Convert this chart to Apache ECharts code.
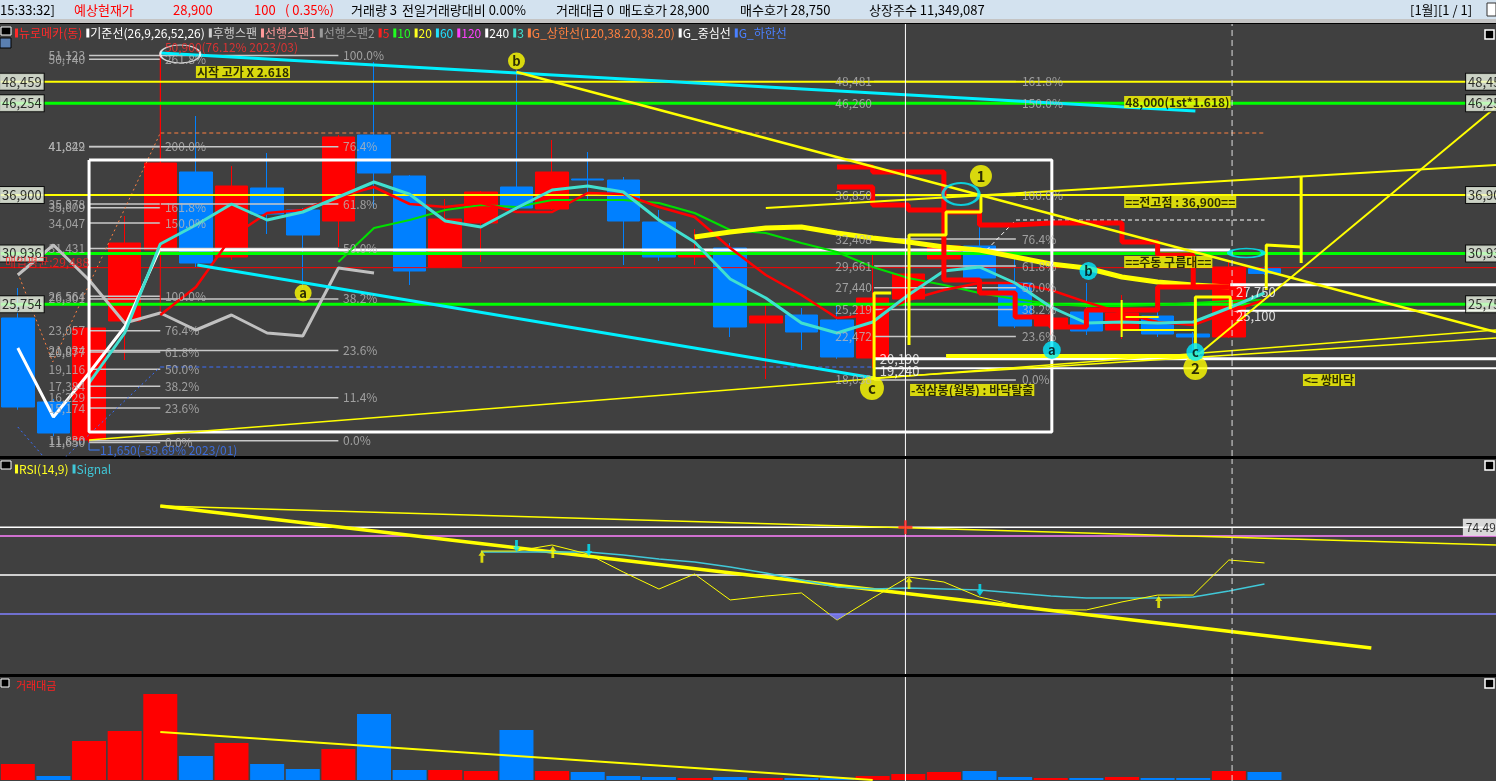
<!DOCTYPE html>
<html>
<head>
<meta charset="utf-8">
<script src="https://cdn.jsdelivr.net/npm/echarts@6.0.0/dist/echarts.min.js"></script>
<style>
html,body{margin:0;padding:0;background:#000;overflow:hidden;}
#chart{width:1496px;height:781px;}
</style>
</head>
<body>
<div id="chart"></div>
<script>
// ================= DATA =================
const categories = ['2022/11','2022/12','2023/01','2023/02','2023/03','2023/04','2023/05','2023/06','2023/07','2023/08','2023/09','2023/10','2023/11','2023/12','2024/01','2024/02','2024/03','2024/04','2024/05','2024/06','2024/07','2024/08','2024/09','2024/10','2024/11','2024/12','2025/01','2025/02','2025/03','2025/04','2025/05','2025/06','2025/07','2025/08','2025/09','2025/10','2025/11','2025/12','2026/01','2026/02','2026/03','2026/04'];

const candleOpen  = [24354,15786,11910,24048,31290,39246,30576,37614,35370,34248,43020,38838,29556,34044,37716,35472,38532,38430,34146,30576,31494,23844,24660,24150,20274,26292,30372,31698,27924,23538,24966,23130,24558,22722,22416,29400];
const candleClose = [15276,12624,23334,32004,40164,29964,37818,34962,32820,42816,39144,29148,34452,37206,35574,39246,38430,34248,30576,30780,23436,24558,22926,20376,26394,28842,31698,28434,23538,24354,23028,24864,22722,22416,29556,28900];
const candleLow   = [15000,12300,11650,20070,29500,29556,30270,32922,27414,31596,35574,27720,29454,30066,35370,35370,36492,29760,30168,29760,22416,18132,21090,20190,19240,26190,30066,28230,23334,22620,22620,22212,22416,21090,22314,28750];
const candleHigh  = [27414,16100,23334,34758,50900,44958,39858,41184,35574,43020,50466,38940,36492,37308,49650,42510,41286,38736,35370,33432,32004,25884,25374,25884,30780,29046,32310,34452,30984,26190,27924,26700,24966,22926,30066,29600];

// moving averages (start index, values)
const ma3Start = 2;
const ma3 = [17724,22824,31902,33840,35982,34350,35166,36696,38226,36978,34248,33636,35574,37410,37818,37206,34350,32106,28332,26394,23844,22824,23946,26700,29148,29556,27924,25476,23844,23946,23844,23946,25374,26904];
const ma5Start = 4;
const ma5 = [24660,27516,32616,35064,35370,36696,37716,35982,35676,36084,35166,35166,37104,37002,35676,34656,31494,28740,26700,24354,24660,26190,27210,27924,27924,27210,25974,24864,23946,23640,24966,26190];
const ma10Start = 9;
const ma10 = [30066,33534,34350,35370,35880,35676,36390,36390,36390,36084,35064,33330,33024,32004,31086,29556,28434,27720,26904,26292,25776,25572,25572,25674,25878,26084,26190];
const ma20Start = 19;
const ma20 = [32616,33126,33534,33636,33024,32514,32106,31596,31290,30576,29862,29454,28536,28026,27720,27516];
const lagSpan = [28740,31800,28230,23844,24864,23130,24660,22824,22518,29454,28944];
const baseLine = [21294,14256,18744,23436,31494];
const cloudStart = 23;
const cloudUpper = [39756,39246,39246,35166,33840,34044,34044,34044,32106,30780,27516];
const cloudLower = [37716,35880,35370,28230,26904,24456,23436,25170,25170,27516,27516];

// volume
const volume = [16,4,39,49,86,24,37,16,11,31,66,10,10,9,50,9,8,4,3,2,3,2,2,2,4,6,8,9,3,2,2,3,2,2,9,8];
const volDir = ['u','d','u','u','u','d','u','d','d','u','d','d','u','u','d','u','d','d','d','u','d','u','d','d','u','u','u','d','d','u','d','u','d','d','u','d'];
const volTrend = [[4,48],[24,0]];

// RSI
const rsiStart = 13;
const rsi = [62.3,62.3,65.4,60.8,51.5,42.8,50.5,37.2,39.2,40.8,26.9,38.2,49.0,46.4,38.7,34.6,32.1,32.1,36.2,39.7,39.7,57.7,56.2];
const rsiSignal = [61.8,61.8,61.8,61.8,60.3,58.2,56.7,54.1,51.0,47.4,43.8,42.8,43.3,42.8,42.3,40.8,39.2,38.2,38.2,38.2,38.7,41.8,45.4];
const rsiLevels = [74.49, 70, 50, 30];
const rsiTrendThick = [[4.0,85.4],[38.0,12.6]];
const rsiTrendThin = [[4.0,85.4],[41.5,65.4]];
const rsiUpArrows = [[13.03,59.4],[15.02,61.8],[25.02,45.9],[32.03,36.2]];
const rsiDownArrows = [[14.0,64.9],[16.03,62.8],[27.01,42.3]];

// horizontal levels (price)
const boxLevels = [48459, 46254, 36900, 30936, 25754];
const boxLevelLabels = ['48,459','46,254','36,900','30,936','25,754'];
const avgPrice = 29488;
const whiteRightLevels = [27750, 25100];
const whiteLowLevels = [20190, 19240];

// trend lines / drawings  [x index, price]
const whiteBasePts = [[4,31290],[34.04,31290]];
const whiteBoxPts = [[2,40470],[29.03,40470],[29.03,12726],[2,12726],[2,40470]];
const cyanTopPts = [[4.0,51384],[33.06,45468]];
const cyanLowPts = [[5.04,29760],[24.04,18234]];
const yDescPts = [[14.0,49446],[41.5,22926]];
const yAsc1Pts = [[2.0,11910],[41.5,23130]];
const yAsc2Pts = [[24.04,18234],[41.5,22314]];
const yUpPts = [[21.0,35574],[41.5,39960]];
const ySteepPts = [[33.06,20376],[41.5,45876]];
const yDoubleBottomPts = [[26.06,20478],[33.06,20478]];
const yStepSegs = [
  [[24.04,18030],[24.04,26904],[24.52,26904]],
  [[25.02,21600],[25.02,32820],[26.06,32820],[26.06,35166],[27.04,35166],[27.04,36900]],
  [[33.06,20376],[33.06,26496],[34.04,26496],[34.04,25272]],
  [[35.05,27210],[35.05,31800],[36.03,31596]],
  [[36.03,38736],[36.03,29964]]
];
const yThinSegs = [
  [[30.99,26190],[30.99,22416]],
  [[30.99,23130],[33.06,23130]],
  [[31.1,24456],[32.03,24456]]
];
const orangeDashPts = [[4.0,43224],[35.0,43224]];
const orangeDotPts = [[0,28944],[0.98,19866],[4.0,43224]];
const blueDashPts = [[4.0,19356],[24.04,19356]];
const blueDotPts1 = [[1.34,10176],[4.0,19356]];
const blueDotPts2 = [[0,13236],[0.73,10176]];
const whiteDashPts = [[27.2,31290],[28.02,34350],[35.0,34350]];
const highMarkPts = [[4,51384],[4,24660]];
const lowMarkPts = [[2.0,11650],[2.0,10890],[2.3,10890]];
const cursorX = 24.92;
const dashCursorX = 34.09;

// fibonacci sets
const fibLeftLevels = [50740,41842,35609,34047,26564,23057,20877,19116,17384,15174,11650];
const fibLeftPct = ['261.8%','200.0%','161.8%','150.0%','100.0%','76.4%','61.8%','50.0%','38.2%','23.6%','0.0%'];
const fibRightLevels = [51123,41829,35978,31431,26301,21034,16229,11830];
const fibRightPct = ['100.0%','76.4%','61.8%','50.0%','38.2%','23.6%','11.4%','0.0%'];
const fibMidLevels = [48481,46260,36850,32408,29661,27440,25219,22472,18038];
const fibMidPct = ['161.8%','150.0%','100.0%','76.4%','61.8%','50.0%','38.2%','23.6%','0.0%'];

// wave markers
const yellowMarkText = ['a','b','c','1','2'];
const yellowMarkPos = [[8.01,26904],[14.0,50568],[23.98,17214],[27.04,38838],[33.06,19254]];
const cyanMarkText = ['a','b','c'];
const cyanMarkPos = [[29.03,21090],[30.06,29148],[33.06,20886]];

// annotations
const annoYellowText = ['시작 고가 X 2.618','48,000(1st*1.618)','==전고점 : 36,900==','==주동 구름대==','<= 쌍바닥','-적삼봉(월봉) : 바닥탈출'];
const annoYellowPos = [[5.0,49446],[31.06,46386],[31.06,36186],[31.06,30066],[36.08,18030],[25.05,17010]];
const highNote = '50,900(76.12% 2023/03)';
const highNotePos = [4.13,51996];
const lowNote = '11,650(-59.69% 2023/01)';
const lowNotePos = [2.31,10890];
const avgNote = '매입평균:29,488';
const avgNotePos = [-0.36,30066];
const whiteValText = ['27,750','25,100','20,190','19,240'];
const whiteValPos = [[34.2,27006],[34.2,24558],[24.2,20172],[24.2,18948]];

// header & legend texts
const headerTexts = ['15:33:32]','예상현재가','28,900','100','( 0.35%)','거래량 3','전일거래량대비 0.00%','거래대금 0','매도호가 28,900','매수호가 28,750','상장주수 11,349,087','[1월][1 / 1]'];
const legendNames = ['뉴로메카(동)','기준선(26,9,26,52,26)','후행스팬','선행스팬1','선행스팬2','5','10','20','60','120','240','3','G_상한선(120,38.20,38.20)','G_중심선','G_하한선'];
const rsiLegendNames = ['RSI(14,9)','Signal'];

// ================= STYLE / LAYOUT =================
const FONT = "'Noto Sans CJK KR','Noto Sans',sans-serif";
const headerX = [0,74,173,254,285,351,402,556,619,740,869,1410];
const headerColors = ['#000','#ff0000','#ff0000','#ff0000','#ff0000','#000','#000','#000','#000','#000','#000','#000'];
const legendColors = ['#ff2a2a','#ffffff','#d0d0d0','#ff9a9a','#9a9a9a','#ff2020','#20ff20','#ffff20','#20e0ff','#ff40ff','#ffffff','#40e0d0','#ff8040','#ffffff','#4a80ff'];
const rsiLegendColors = ['#ffff20','#40c8d8'];

function pad(start, arr){
  const out = categories.map(() => null);
  arr.forEach((v,k)=>{ out[start+k] = v; });
  return out;
}
function poly(pts, color, width, type, z, grid){
  grid = grid || 0;
  return {type:'line', xAxisIndex:3+grid, yAxisIndex:grid, data:pts, symbol:'none',
    lineStyle:{color:color, width:width, type:type||'solid'}, silent:true, z:z||5, clip:true};
}
function labels(items, style, grid){
  grid = grid || 0;
  return {type:'scatter', xAxisIndex:3+grid, yAxisIndex:grid, symbolSize:0, silent:true, z:20,
    itemStyle:{color:'rgba(0,0,0,0)'},
    data: items.map(it => ({value:it.pos, label:Object.assign({show:true, formatter:it.text, fontFamily:FONT}, style, it.style||{})}))};
}

const series = [];
const XMIN = -0.5, XMAX = 41.5;

// candles
series.push({type:'candlestick', xAxisIndex:0, yAxisIndex:0, barWidth:33, z:2,
  data: candleOpen.map((o,i)=>[o, candleClose[i], candleLow[i], candleHigh[i]]),
  itemStyle:{color:'#ff0000', color0:'#0080ff', borderColor:'#ff0000', borderColor0:'#0080ff', borderWidth:1}});

// fib lines (gray)
fibRightLevels.forEach(p => series.push(poly([[2.0,p],[9.0,p]], '#c8c8c8', 1.5, 'solid', 3)));
fibLeftLevels.forEach(p => series.push(poly([[2.0,p],[4.0,p]], '#c8c8c8', 1.5, 'solid', 3)));
fibMidLevels.forEach(p => series.push(poly([[24.04,p],[28.02,p]], '#c8c8c8', 1.5, 'solid', 3)));

// horizontal lines
const boxLevelColors = ['#ffff00','#00ff00','#ffff00','#00ff00','#00ff00'];
const boxLevelWidths = [2,3,2,3,3];
boxLevels.forEach((p,k) => series.push(poly([[XMIN,p],[XMAX,p]], boxLevelColors[k], boxLevelWidths[k], 'solid', 6)));
series.push(poly([[XMIN,avgPrice],[XMAX,avgPrice]], '#ff0000', 1, 'solid', 6));
whiteRightLevels.forEach((p,k) => series.push(poly([[34.04,p],[XMAX,p]], '#ffffff', k===0?3:2, 'solid', 6)));
whiteLowLevels.forEach((p,k) => series.push(poly([[24.04,p],[XMAX,p]], '#ffffff', k===0?3:2, 'solid', 6)));

// dashed / dotted
series.push(poly(orangeDashPts, '#ff8040', 1, [4,3], 4));
series.push(poly(orangeDotPts, '#ff8040', 1, [2,3], 4));
series.push(poly(blueDashPts, '#3a6fff', 1, [4,3], 4));
series.push(poly(blueDotPts1, '#3a6fff', 1, [2,3], 4));
series.push(poly(blueDotPts2, '#3a6fff', 1, [2,3], 4));
series.push(poly(whiteDashPts, '#ffffff', 1, [4,3], 4));
series.push(poly(highMarkPts, '#ff0000', 1, 'solid', 4));
series.push(poly(lowMarkPts, '#3a7fff', 1, 'solid', 4));

// MAs
series.push({type:'line', xAxisIndex:0, yAxisIndex:0, data:lagSpan, symbol:'none', lineStyle:{color:'#c0c0c0', width:3}, z:7});
series.push({type:'line', xAxisIndex:0, yAxisIndex:0, data:pad(0,baseLine), symbol:'none', lineStyle:{color:'#ffffff', width:3}, z:7});
series.push(poly(whiteBasePts, '#ffffff', 3, 'solid', 7));
series.push({type:'line', xAxisIndex:0, yAxisIndex:0, data:pad(ma10Start,ma10), symbol:'none', lineStyle:{color:'#00e000', width:2}, z:8});
series.push({type:'line', xAxisIndex:0, yAxisIndex:0, data:pad(ma5Start,ma5), symbol:'none', lineStyle:{color:'#ff0000', width:2.5}, z:8});
series.push({type:'line', xAxisIndex:0, yAxisIndex:0, data:pad(ma3Start,ma3), symbol:'none', lineStyle:{color:'#40e0d0', width:3}, z:9});
series.push({type:'line', xAxisIndex:0, yAxisIndex:0, data:pad(ma20Start,ma20), symbol:'none', lineStyle:{color:'#ffff00', width:5}, z:9});

// cloud step lines
series.push({type:'line', xAxisIndex:0, yAxisIndex:0, step:'end', data:pad(cloudStart,cloudUpper), symbol:'none', lineStyle:{color:'#ff0000', width:5}, z:10});
series.push({type:'line', xAxisIndex:0, yAxisIndex:0, step:'end', data:pad(cloudStart,cloudLower), symbol:'none', lineStyle:{color:'#ff0000', width:5}, z:10});

// box & trend lines
series.push(poly(whiteBoxPts, '#ffffff', 3, 'solid', 11));
series.push(poly(cyanTopPts, '#00f0ff', 3, 'solid', 11));
series.push(poly(cyanLowPts, '#00f0ff', 3, 'solid', 11));
series.push(poly(yDescPts, '#ffff00', 2.5, 'solid', 11));
series.push(poly(yAsc1Pts, '#ffff00', 1.5, 'solid', 11));
series.push(poly(yAsc2Pts, '#ffff00', 1.5, 'solid', 11));
series.push(poly(yUpPts, '#ffff00', 2, 'solid', 11));
series.push(poly(ySteepPts, '#ffff00', 2, 'solid', 11));
series.push(poly(yDoubleBottomPts, '#ffff00', 4, 'solid', 11));
yStepSegs.forEach(s => series.push(poly(s, '#ffff00', 3, 'solid', 12)));
yThinSegs.forEach(s => series.push(poly(s, '#ffff00', 2, 'solid', 12)));

// cursor lines
series.push(poly([[cursorX,10278],[cursorX,54342]], '#ffffff', 1, 'solid', 13, 0));
series.push(poly([[cursorX,-0.77],[cursorX,109.5]], '#ffffff', 1, 'solid', 13, 1));
series.push(poly([[cursorX,-1],[cursorX,103]], '#ffffff', 1, 'solid', 13, 2));
series.push(poly([[dashCursorX,10278],[dashCursorX,54342]], '#dddddd', 1, [6,4], 13, 0));
series.push(poly([[dashCursorX,-0.77],[dashCursorX,109.5]], '#dddddd', 1, [6,4], 13, 1));
series.push(poly([[dashCursorX,-1],[dashCursorX,103]], '#dddddd', 1, [6,4], 13, 2));

// ellipses
series.push({type:'scatter', xAxisIndex:3, yAxisIndex:0, silent:true, z:14, symbol:'circle',
  data:[{value:[26.48,37002], symbolSize:[36,22], itemStyle:{color:'rgba(0,0,0,0)', borderColor:'#00f0ff', borderWidth:2.5}},
        {value:[34.49,30984], symbolSize:[34,9], itemStyle:{color:'rgba(0,0,0,0)', borderColor:'#00f0ff', borderWidth:2.5}},
        {value:[4.56,51282], symbolSize:[40,18], itemStyle:{color:'rgba(0,0,0,0)', borderColor:'#ffffff', borderWidth:1.5}}]});

// wave markers
const yellowSizes = [17,17,24,22,24];
series.push({type:'scatter', xAxisIndex:3, yAxisIndex:0, silent:true, z:15, symbol:'circle',
  data: yellowMarkPos.map((p,k)=>({value:p, symbolSize:yellowSizes[k],
    label:{show:true, position:'inside', formatter:yellowMarkText[k], color:'#000', fontWeight:'bold', fontSize:k<2?13:15, fontFamily:FONT}})),
  itemStyle:{color:'#ffff00'}});
series.push({type:'scatter', xAxisIndex:3, yAxisIndex:0, silent:true, z:15, symbol:'circle', symbolSize:18,
  data: cyanMarkPos.map((p,k)=>({value:p,
    label:{show:true, position:'inside', formatter:cyanMarkText[k], color:'#000', fontWeight:'bold', fontSize:13, fontFamily:FONT}})),
  itemStyle:{color:'#00e8ff'}});

// fib labels
const grayLbl = {color:'#b8b8b8', fontSize:12, distance:0};
const leftPriceItems = fibLeftLevels.concat(fibRightLevels).map(p => ({pos:[1.89,p], text:p.toLocaleString('en-US')}));
series.push(labels(leftPriceItems, Object.assign({position:'left'}, grayLbl)));
series.push(labels(fibLeftLevels.map((p,k)=>({pos:[4.13,p], text:fibLeftPct[k]})), Object.assign({position:'right'}, grayLbl)));
series.push(labels(fibRightLevels.map((p,k)=>({pos:[9.13,p], text:fibRightPct[k]})), Object.assign({position:'right'}, grayLbl)));
series.push(labels(fibMidLevels.map(p=>({pos:[23.98,p], text:p.toLocaleString('en-US')})), Object.assign({position:'left'}, grayLbl)));
series.push(labels(fibMidLevels.map((p,k)=>({pos:[28.19,p], text:fibMidPct[k]})), Object.assign({position:'right'}, grayLbl)));

// boxed level labels (left & right edges)
const boxStyle = {position:'right', distance:0, color:'#000', fontSize:13, backgroundColor:'#eef6e6', borderColor:'#000', borderWidth:1, padding:[2,2,1,2]};
series.push(labels(boxLevels.map((p,k)=>({pos:[XMIN,p], text:boxLevelLabels[k]})), boxStyle));
series.push(labels(boxLevels.map((p,k)=>({pos:[40.66,p], text:boxLevelLabels[k]})), boxStyle));

// annotations
const yellowBoxStyle = {position:'right', distance:0, color:'#000', fontSize:12, fontWeight:'bold', backgroundColor:'#ffff00', padding:[0,1,0,1]};
series.push(labels(annoYellowPos.map((p,k)=>({pos:p, text:annoYellowText[k]})), yellowBoxStyle));
series.push(labels([{pos:highNotePos, text:highNote, style:{color:'#ff3030'}},
                    {pos:lowNotePos, text:lowNote, style:{color:'#3c78ff'}},
                    {pos:avgNotePos, text:avgNote, style:{color:'#ff2020'}}],
                   {position:'right', distance:0, fontSize:12}));
series.push(labels(whiteValPos.map((p,k)=>({pos:p, text:whiteValText[k]})), {position:'right', distance:0, fontSize:13, color:'#ffffff'}));

// ---------- RSI panel ----------
const rsiLevelColors = ['#ffffff','#ff80ff','#ffffff','#8080ff'];
rsiLevels.forEach((v,k)=> series.push(poly([[XMIN,v],[XMAX,v]], rsiLevelColors[k], 1.5, 'solid', 3, 1)));
series.push(poly(rsiTrendThin, '#ffff00', 1.5, 'solid', 4, 1));
series.push(poly(rsiTrendThick, '#ffff00', 3.5, 'solid', 4, 1));
series.push({type:'line', xAxisIndex:1, yAxisIndex:1, data:pad(rsiStart,rsiSignal), symbol:'none', lineStyle:{color:'#40c8d8', width:1.5}, z:5});
series.push({type:'line', xAxisIndex:1, yAxisIndex:1, data:pad(rsiStart,rsi), symbol:'none', lineStyle:{color:'#ffff00', width:1}, z:6});
const arrowPath = 'path://M5,0L10,6H7V14H3V6H0Z';
series.push({type:'scatter', xAxisIndex:4, yAxisIndex:1, silent:true, z:8, symbol:arrowPath, symbolSize:[7,12], itemStyle:{color:'#ffff00'}, data:rsiUpArrows});
series.push({type:'scatter', xAxisIndex:4, yAxisIndex:1, silent:true, z:8, symbol:arrowPath, symbolSize:[7,12], symbolRotate:180, itemStyle:{color:'#00e8ff'}, data:rsiDownArrows});
series.push({type:'scatter', xAxisIndex:4, yAxisIndex:1, silent:true, z:8, symbol:'path://M0,0L10,0L5,3Z', symbolSize:[19,6], itemStyle:{color:'#8080ff'}, data:[[23.0,28.5]]});
series.push({type:'scatter', xAxisIndex:4, yAxisIndex:1, silent:true, z:14, symbol:'path://M4,0h2v10h-2z M0,4h10v2h-10z', symbolSize:14, itemStyle:{color:'#ff2020'}, data:[[cursorX, rsiLevels[0]]]});
series.push(labels([{pos:[40.57, rsiLevels[0]], text:'74.49'}], {position:'right', distance:0, color:'#000', fontSize:12, backgroundColor:'#ffffff', padding:[3,3,2,3]}, 1));

// ---------- Volume panel ----------
series.push({type:'bar', xAxisIndex:2, yAxisIndex:2, barWidth:34, z:2,
  data: volume.map((v,i)=>({value:v, itemStyle:{color: volDir[i]==='u' ? '#ff0000' : '#0080ff'}}))});
series.push(poly(volTrend, '#ffff00', 2, 'solid', 5, 2));

// ---------- graphics ----------
const graphic = [];
graphic.push({type:'rect', shape:{x:0,y:0,width:1496,height:19}, style:{fill:'#d3e2ef'}, z:100, silent:true});
graphic.push({type:'rect', shape:{x:0,y:19,width:1496,height:4}, style:{fill:'#c4c4c4'}, z:100, silent:true});
graphic.push({type:'rect', shape:{x:0,y:23,width:1496,height:1}, style:{fill:'#000'}, z:100, silent:true});
headerTexts.forEach((t,k)=> graphic.push({type:'text', x:headerX[k], y:10, z:101, silent:true,
  style:{text:t, fill:headerColors[k], font:"13px 'Noto Sans CJK KR'", verticalAlign:'middle'}}));
graphic.push({type:'rect', shape:{x:1487,y:3,width:9,height:13}, style:{fill:'#fff', stroke:'#333', lineWidth:1}, z:101});

function richLegend(names, colors, x, y){
  let txt = '';
  const rich = {};
  names.forEach((n,k)=>{
    txt += '{b'+k+'|}{t'+k+'|'+n+'}';
    rich['b'+k] = {width:3, height:9, backgroundColor:colors[k]};
    rich['t'+k] = {fill:colors[k], color:colors[k], fontSize:12, fontFamily:FONT, padding:[0,4,0,1]};
  });
  return {type:'text', x:x, y:y, z:102, silent:true, style:{text:txt, rich:rich, fill:'#fff', font:"12px 'Noto Sans CJK KR'", verticalAlign:'middle'}};
}
graphic.push({type:'rect', shape:{x:1,y:27,width:10,height:8}, style:{fill:'#000', stroke:'#fff', lineWidth:1}, z:102});
graphic.push({type:'rect', shape:{x:0,y:38,width:11,height:10}, style:{fill:'#5a7fb0', stroke:'#000', lineWidth:1}, z:102});
graphic.push(richLegend(legendNames, legendColors, 15, 33));
graphic.push({type:'rect', shape:{x:1485,y:30,width:9,height:9}, style:{fill:'#000', stroke:'#fff', lineWidth:1.5}, z:102});
// RSI legend
graphic.push({type:'rect', shape:{x:1,y:461,width:10,height:8}, style:{fill:'#000', stroke:'#fff', lineWidth:1}, z:102});
graphic.push(richLegend(rsiLegendNames, rsiLegendColors, 15, 469));
graphic.push({type:'rect', shape:{x:1485,y:461,width:9,height:9}, style:{fill:'#000', stroke:'#fff', lineWidth:1.5}, z:102});
// volume legend
graphic.push({type:'rect', shape:{x:1,y:679,width:8,height:8}, style:{fill:'#000', stroke:'#fff', lineWidth:1}, z:102});
graphic.push({type:'text', x:16, y:686, z:102, silent:true, style:{text:'거래대금', fill:'#ff2020', font:"11px 'Noto Sans CJK KR'", verticalAlign:'middle'}});
graphic.push({type:'rect', shape:{x:1485,y:679,width:9,height:9}, style:{fill:'#000', stroke:'#fff', lineWidth:1.5}, z:102});

const option = {
  animation:false,
  backgroundColor:'#000000',
  textStyle:{fontFamily:FONT},
  grid:[
    {left:0,right:0,top:24,height:432,show:true,backgroundColor:'#404040',borderWidth:0},
    {left:0,right:0,top:459,height:215,show:true,backgroundColor:'#404040',borderWidth:0},
    {left:0,right:0,top:677,height:104,show:true,backgroundColor:'#404040',borderWidth:0}
  ],
  xAxis:[
    {type:'category',gridIndex:0,data:categories,show:false},
    {type:'category',gridIndex:1,data:categories,show:false},
    {type:'category',gridIndex:2,data:categories,show:false},
    {type:'value',gridIndex:0,min:XMIN,max:XMAX,show:false,splitLine:{show:false}},
    {type:'value',gridIndex:1,min:XMIN,max:XMAX,show:false,splitLine:{show:false}},
    {type:'value',gridIndex:2,min:XMIN,max:XMAX,show:false,splitLine:{show:false}}
  ],
  yAxis:[
    {type:'value',gridIndex:0,min:10278,max:54342,show:false,splitLine:{show:false}},
    {type:'value',gridIndex:1,min:-0.77,max:109.5,show:false,splitLine:{show:false}},
    {type:'value',gridIndex:2,min:-1,max:103,show:false,splitLine:{show:false}}
  ],
  series:series,
  graphic:graphic
};
const chart = echarts.init(document.getElementById('chart'), null, {renderer:'canvas'});
chart.setOption(option);
</script>
</body>
</html>
